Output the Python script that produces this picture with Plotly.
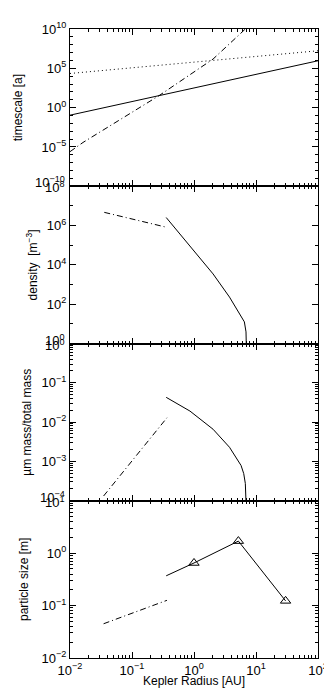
import plotly.graph_objects as go
from plotly.subplots import make_subplots

# ---- data ----
# panel 1: timescales [a]
r_t_solid = [0.01, 100]
t_solid = [1.1e-1, 9.1e5]
r_t_dot = [0.01, 100]
t_dot = [2.2e4, 1.7e7]
r_t_dashdot = [0.01, 0.0162, 0.27, 0.916, 2.03, 6.73, 10]
t_dashdot = [2.5e-6, 3.7e-5, 31.6, 1.86e4, 1.5e6, 1e10, 2e11]

# panel 2: density [m^-3]
r_n_dashdot = [0.0357, 0.366]
n_dashdot = [4.7e6, 8.1e5]
r_n_solid = [0.356, 0.861, 2.03, 3.74, 5.74, 6.49, 6.90, 7.05, 7.08]
n_solid = [2.57e6, 9.5e4, 3.47e3, 229, 26.9, 12.6, 3.9, 1.0, 0.1]

# panel 3: um mass / total mass
r_f_dashdot = [0.0348, 0.366]
f_dashdot = [1.32e-4, 1.29e-2]
r_f_solid = [0.356, 0.861, 2.03, 3.74, 5.74, 6.34, 6.73, 6.90, 7.0]
f_solid = [0.0427, 0.0191, 6.6e-3, 2.29e-3, 7.9e-4, 4.9e-4, 2.75e-4, 1.7e-4, 5e-5]

# panel 4: particle size [m]
r_a_dashdot = [0.0348, 0.366]
a_dashdot = [0.045, 0.126]
r_a_solid = [0.356, 1.0, 5.2, 30]
a_solid = [0.37, 0.65, 1.7, 0.123]
r_planets = [1.0, 5.2, 30]
a_planets = [0.65, 1.7, 0.123]

x_ticks = [0.01, 0.1, 1, 10, 100]
x_ticktext = ["10<sup>−2</sup>", "10<sup>−1</sup>", "10<sup>0</sup>", "10<sup>1</sup>", "10<sup>2</sup>"]
y1_exp = [-10, -5, 0, 5, 10]
y2_exp = [0, 2, 4, 6, 8]
y3_exp = [-4, -3, -2, -1, 0]
y4_exp = [-2, -1, 0, 1]

FONT = "Liberation Sans, Arial, Helvetica, sans-serif"
BLACK = "#000000"
DASHDOT = "6px,3px,1px,3px"
DOT = "1px,3px"


def sup(e):
    s = str(e).replace("-", "−")
    return f"10<sup>{s}</sup>"


def minor_decades(lo, hi, mult=(2, 3, 4, 5, 6, 7, 8, 9)):
    return [m * 10 ** d for d in range(lo, hi) for m in mult]


fig = make_subplots(rows=4, cols=1, shared_xaxes=True, vertical_spacing=0)

def line(x, y, dash, row):
    fig.add_trace(go.Scatter(x=x, y=y, mode="lines",
                             line=dict(color=BLACK, width=1, dash=dash),
                             showlegend=False), row=row, col=1)

line(r_t_solid, t_solid, "solid", 1)
line(r_t_dot, t_dot, DOT, 1)
line(r_t_dashdot, t_dashdot, DASHDOT, 1)

line(r_n_dashdot, n_dashdot, DASHDOT, 2)
line(r_n_solid, n_solid, "solid", 2)

line(r_f_dashdot, f_dashdot, DASHDOT, 3)
line(r_f_solid, f_solid, "solid", 3)

line(r_a_dashdot, a_dashdot, DASHDOT, 4)
line(r_a_solid, a_solid, "solid", 4)
fig.add_trace(go.Scatter(x=r_planets, y=a_planets, mode="markers",
                         marker=dict(symbol="triangle-up-open", size=9,
                                     color=BLACK, line=dict(width=1, color=BLACK)),
                         showlegend=False), row=4, col=1)

axis_common = dict(
    showline=True, linecolor=BLACK, linewidth=1, mirror="allticks",
    ticks="inside", ticklen=6, tickwidth=1, tickcolor=BLACK,
    showgrid=False, zeroline=False, ticklabeloverflow="allow",
    tickfont=dict(family=FONT, size=13, color=BLACK),
)

fig.update_xaxes(type="log", range=[-2, 2], tickmode="array",
                 tickvals=x_ticks, ticktext=x_ticktext,
                 minor=dict(ticks="inside", ticklen=3, tickcolor=BLACK,
                            tickmode="array", tickvals=minor_decades(-2, 2),
                            showgrid=False),
                 **axis_common)

y_specs = [
    (1, y1_exp, [d for d in range(-9, 10) if d % 5 != 0], None),
    (2, y2_exp, [1, 3, 5, 7], None),
    (3, y3_exp, None, (-4, 0)),
    (4, y4_exp, None, (-2, 1)),
]
for row, exps, minor_exp, minor_range in y_specs:
    if minor_exp is not None:
        mvals = [10 ** d for d in minor_exp]
    else:
        mvals = minor_decades(*minor_range)
    texts = [sup(e) for e in exps]
    # labels sitting on a shared panel boundary are drawn as annotations
    # (slightly offset, like the original) instead of tick labels
    if row < 4:
        texts[0] = ""
    if row > 1:
        texts[-1] = ""
    fig.update_yaxes(type="log", range=[exps[0], exps[-1]], tickmode="array",
                     tickvals=[10 ** e for e in exps], ticktext=texts,
                     minor=dict(ticks="inside", ticklen=3, tickcolor=BLACK,
                                tickmode="array", tickvals=mvals, showgrid=False),
                     row=row, col=1, **axis_common)

    yref = "y" if row == 1 else f"y{row}"
    if row < 4:
        fig.add_annotation(text=sup(exps[0]), xref="paper", yref=yref,
                           x=0, y=exps[0], xanchor="right", yanchor="middle",
                           xshift=-3, yshift=4, showarrow=False,
                           font=dict(family=FONT, size=13, color=BLACK))
    if row > 1:
        fig.add_annotation(text=sup(exps[-1]), xref="paper", yref=yref,
                           x=0, y=exps[-1], xanchor="right", yanchor="middle",
                           xshift=-3, yshift=-1, showarrow=False,
                           font=dict(family=FONT, size=13, color=BLACK))

# axis titles placed as annotations (pixel-like positions)
y_titles = [
    ("timescale [a]", -0.211, 0.875),
    ("density  [m<sup>−3</sup>]", -0.155, 0.625),
    ("µm mass/total mass", -0.171, 0.375),
    ("particle size [m]", -0.183, 0.125),
]
for text, xp, yp in y_titles:
    fig.add_annotation(text=text, xref="paper", yref="paper", x=xp, y=yp,
                       textangle=-90, showarrow=False, xanchor="center",
                       yanchor="middle",
                       font=dict(family=FONT, size=12, color=BLACK))

fig.add_annotation(text="Kepler Radius [AU]", xref="paper", yref="paper",
                   x=0.5, y=-0.0365, showarrow=False, xanchor="center",
                   yanchor="middle", font=dict(family=FONT, size=12, color=BLACK))

fig.update_layout(
    width=332, height=691,
    margin=dict(l=62, r=19, t=20, b=41),
    paper_bgcolor="white", plot_bgcolor="white",
    font=dict(family=FONT, color=BLACK),
    showlegend=False,
)

fig.write_html("out.html")
